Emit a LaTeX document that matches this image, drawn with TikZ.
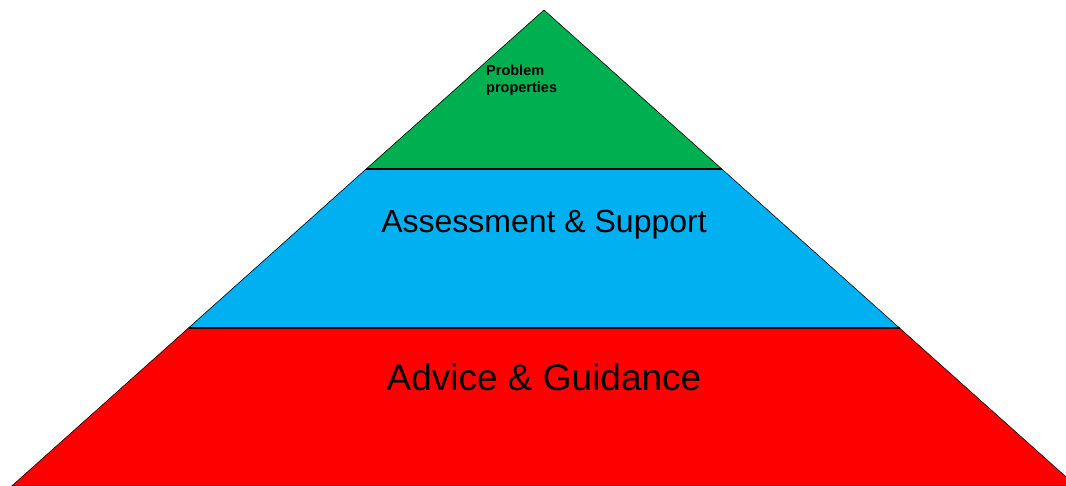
\documentclass[tikz,border=0pt]{standalone}
\usepackage{fontspec}
\setmainfont{Liberation Sans}
\usepackage{tikz}

\definecolor{topgreen}{HTML}{00B050}
\definecolor{midblue}{HTML}{00B0F0}
\definecolor{basered}{HTML}{FF0000}

\tikzset{
    layer/.style={draw=black,line width=0.6pt},
    divider/.style={black,line width=1.6pt},
}

\begin{document}
\begin{tikzpicture}[x=1pt,y=-1pt]
    \useasboundingbox (0,0) rectangle (1066,486);
    \clip (0,0) rectangle (1066,486);
    % corners of the pyramid
    \coordinate (apex) at (544,10);
    \coordinate (l1) at (366.2,169);
    \coordinate (r1) at (721.8,169);
    \coordinate (l2) at (188.5,328);
    \coordinate (r2) at (899.5,328);
    \coordinate (l3) at (11.8,486);
    \coordinate (r3) at (1076.2,486);
    % layers
    \filldraw[layer,fill=basered] (l2) -- (r2) -- (r3) -- (l3) -- cycle;
    \filldraw[layer,fill=midblue] (l1) -- (r1) -- (r2) -- (l2) -- cycle;
    \filldraw[layer,fill=topgreen] (apex) -- (r1) -- (l1) -- cycle;
    \draw[divider] (l1) -- (r1);
    \draw[divider] (l2) -- (r2);
    % labels
    \node[anchor=base west,inner sep=0pt,align=left,
          font=\fontsize{14.5}{17}\selectfont\bfseries] (props) at (486,93)
        {Problem\\properties};
    \node[anchor=base,inner sep=0pt,font=\fontsize{32}{38}\selectfont] (assess) at (544,233)
        {Assessment \& Support};
    \node[anchor=base,inner sep=0pt,font=\fontsize{37}{44}\selectfont] (advice) at (544,391)
        {Advice \& Guidance};
\end{tikzpicture}
\end{document}
